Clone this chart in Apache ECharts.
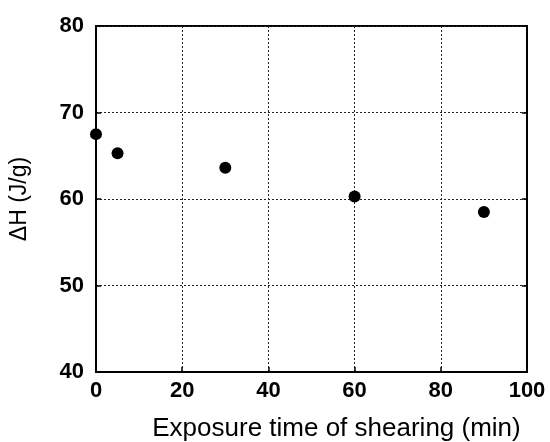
<!DOCTYPE html>
<html>
<head>
<meta charset="utf-8">
<script src="https://cdn.jsdelivr.net/npm/echarts@6/dist/echarts.min.js"></script>
<style>
  html, body { margin: 0; padding: 0; background: #fff; }
  #main { width: 550px; height: 442px; }
</style>
</head>
<body>
<div id="main"></div>
<script>
// exposure time (min) vs enthalpy (J/g)
var times = [0, 5, 30, 60, 90];
var deltaH = [67.5, 65.3, 63.6, 60.3, 58.5];
var xTicks = [0, 20, 40, 60, 80, 100];
var yTicks = [40, 50, 60, 70, 80];

var points = times.map(function (t, i) { return [t, deltaH[i]]; });

var myChart = echarts.init(document.getElementById('main'));
var font = 'Liberation Sans, Arial, sans-serif';
var labelStyle = { color: '#000', fontFamily: font, fontSize: 22, fontWeight: 'bold' };
var option = {
    animation: false,
    grid: {
        left: 96, top: 26, right: 23, bottom: 70,
        outerBoundsMode: 'none',
        containLabel: false,
        show: true, borderColor: '#000', borderWidth: 2
    },
    xAxis: {
        type: 'value',
        min: xTicks[0], max: xTicks[xTicks.length - 1], interval: 20,
        name: 'Exposure time of shearing (min)',
        nameLocation: 'middle',
        nameGap: 44,
        nameTextStyle: { color: '#000', fontFamily: font, fontSize: 26, padding: [0, 0, 0, 50] },
        axisLine: { show: true, lineStyle: { color: '#000', width: 2 } },
        axisTick: { show: true, inside: true, length: 5, lineStyle: { color: '#000', width: 1.5 } },
        axisLabel: Object.assign({ margin: 8 }, labelStyle),
        splitLine: { show: true, lineStyle: { color: '#222', type: [2, 2], width: 1 } }
    },
    yAxis: [{
        type: 'value',
        min: yTicks[0], max: yTicks[yTicks.length - 1], interval: 10,
        name: 'ΔH (J/g)',
        nameLocation: 'middle',
        nameGap: 65,
        nameTextStyle: { color: '#000', fontFamily: font, fontSize: 23 },
        axisLine: { show: true, lineStyle: { color: '#000', width: 2 } },
        axisTick: { show: true, inside: true, length: 5, lineStyle: { color: '#000', width: 1.5 } },
        axisLabel: Object.assign({ margin: 12 }, labelStyle),
        splitLine: { show: true, lineStyle: { color: '#222', type: [2, 2], width: 1 } }
    }, {
        type: 'value',
        position: 'right',
        min: yTicks[0], max: yTicks[yTicks.length - 1], interval: 10,
        axisLine: { show: true, lineStyle: { color: '#000', width: 2 } },
        axisTick: { show: true, inside: true, length: 5, lineStyle: { color: '#000', width: 1.5 } },
        axisLabel: { show: false },
        splitLine: { show: false }
    }],
    series: [{
        type: 'scatter',
        data: points,
        symbol: 'circle',
        symbolSize: 12,
        itemStyle: { color: '#000', opacity: 1 }
    }]
};
myChart.setOption(option);
</script>
</body>
</html>
